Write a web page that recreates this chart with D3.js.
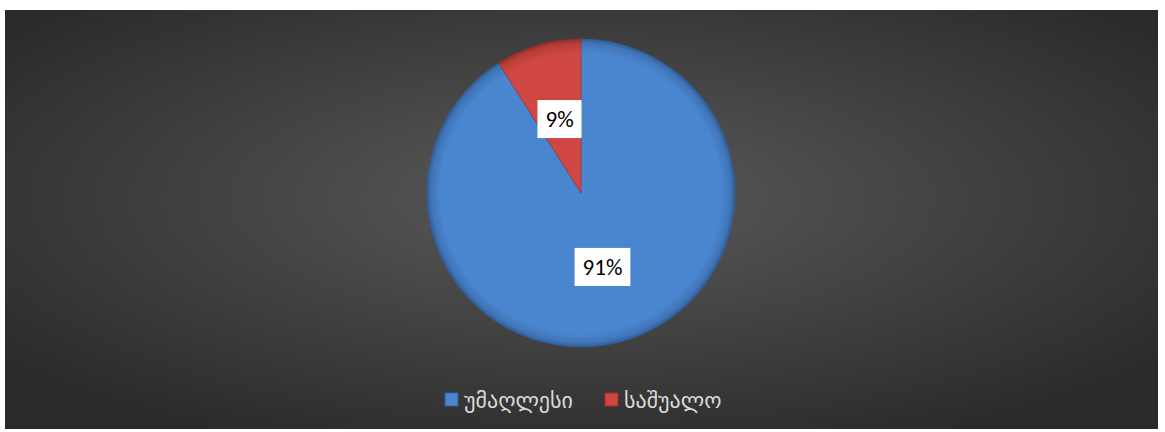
<!DOCTYPE html>
<html>
<head>
<meta charset="utf-8">
<script src="https://cdn.jsdelivr.net/npm/d3@7"></script>
<style>
  body { margin: 0; background: #ffffff; }
  svg { display: block; }
</style>
</head>
<body>
<div id="chart"></div>
<script>
const categories = ["უმაღლესი", "საშუალო"];
const values = [91, 9];
const colors = ["#4a86d0", "#cf4642"];
const edgeColors = ["#2f5f9e", "#9c2c28"];

const W = 1165, H = 432;
const svg = d3.select("#chart").append("svg")
    .attr("width", W).attr("height", H);

const defs = svg.append("defs");

// Background radial gradient
const bg = defs.append("radialGradient").attr("id", "bg")
    .attr("cx", "50%").attr("cy", "45%").attr("r", "65%");
bg.append("stop").attr("offset", "0%").attr("stop-color", "#5a5a5a");
bg.append("stop").attr("offset", "100%").attr("stop-color", "#2a2a2a");

svg.append("rect")
    .attr("x", 5).attr("y", 10)
    .attr("width", 1153).attr("height", 419)
    .attr("fill", "url(#bg)");

const cx = 581, cy = 193, radius = 154;

// Slice shading gradients (in the pie group's own coordinates)
colors.forEach((c, i) => {
    const g = defs.append("radialGradient").attr("id", "slice" + i)
        .attr("gradientUnits", "userSpaceOnUse")
        .attr("cx", 0).attr("cy", 0).attr("r", radius);
    g.append("stop").attr("offset", "0%").attr("stop-color", c);
    g.append("stop").attr("offset", "91%").attr("stop-color", c);
    g.append("stop").attr("offset", "97%").attr("stop-color", d3.color(c).darker(0.35));
    g.append("stop").attr("offset", "100%").attr("stop-color", edgeColors[i]);
});

const pie = d3.pie().sort(null).value(d => d);
const arcs = pie(values);
const arc = d3.arc().innerRadius(0).outerRadius(radius);
const labelArc = d3.arc().innerRadius(radius * 0.5).outerRadius(radius * 0.5);
const total = d3.sum(values);

const g = svg.append("g").attr("transform", `translate(${cx},${cy})`);

g.selectAll("path.slice")
    .data(arcs)
    .enter().append("path")
    .attr("class", "slice")
    .attr("d", arc)
    .attr("fill", (d, i) => `url(#slice${i})`)
    .attr("stroke", (d, i) => edgeColors[i])
    .attr("stroke-width", 0.8)
    .attr("stroke-opacity", 0.6);

// Data labels in white boxes
const labels = g.selectAll("g.label")
    .data(arcs)
    .enter().append("g")
    .attr("class", "label")
    .attr("transform", d => `translate(${labelArc.centroid(d)})`);

labels.each(function(d) {
    const sel = d3.select(this);
    const txt = Math.round(d.value / total * 100) + "%";
    const t = sel.append("text")
        .attr("text-anchor", "middle")
        .attr("dy", "0.35em")
        .attr("font-family", "Carlito, 'Liberation Sans', Arial, sans-serif")
        .attr("font-size", 23)
        .attr("font-weight", "normal")
        .attr("fill", "#000")
        .text(txt);
    const bb = t.node().getBBox();
    sel.insert("rect", "text")
        .attr("x", bb.x - 8).attr("y", -19)
        .attr("width", bb.width + 16).attr("height", 38)
        .attr("fill", "#ffffff");
});

// Legend
const legend = svg.append("g").attr("transform", "translate(445,400)");
const legendX = [0, 160];
categories.forEach((c, i) => {
    const item = legend.append("g").attr("transform", `translate(${legendX[i]},0)`);
    item.append("rect")
        .attr("x", 0).attr("y", -7)
        .attr("width", 13).attr("height", 13)
        .attr("fill", colors[i])
        .attr("stroke", edgeColors[i]).attr("stroke-width", 1);
    item.append("text")
        .attr("x", 19).attr("y", 0)
        .attr("dy", "0.35em")
        .attr("font-family", "'DejaVu Sans', sans-serif")
        .attr("font-size", 22)
        .attr("fill", "#d9d9d9")
        .text(c);
});
</script>
</body>
</html>
